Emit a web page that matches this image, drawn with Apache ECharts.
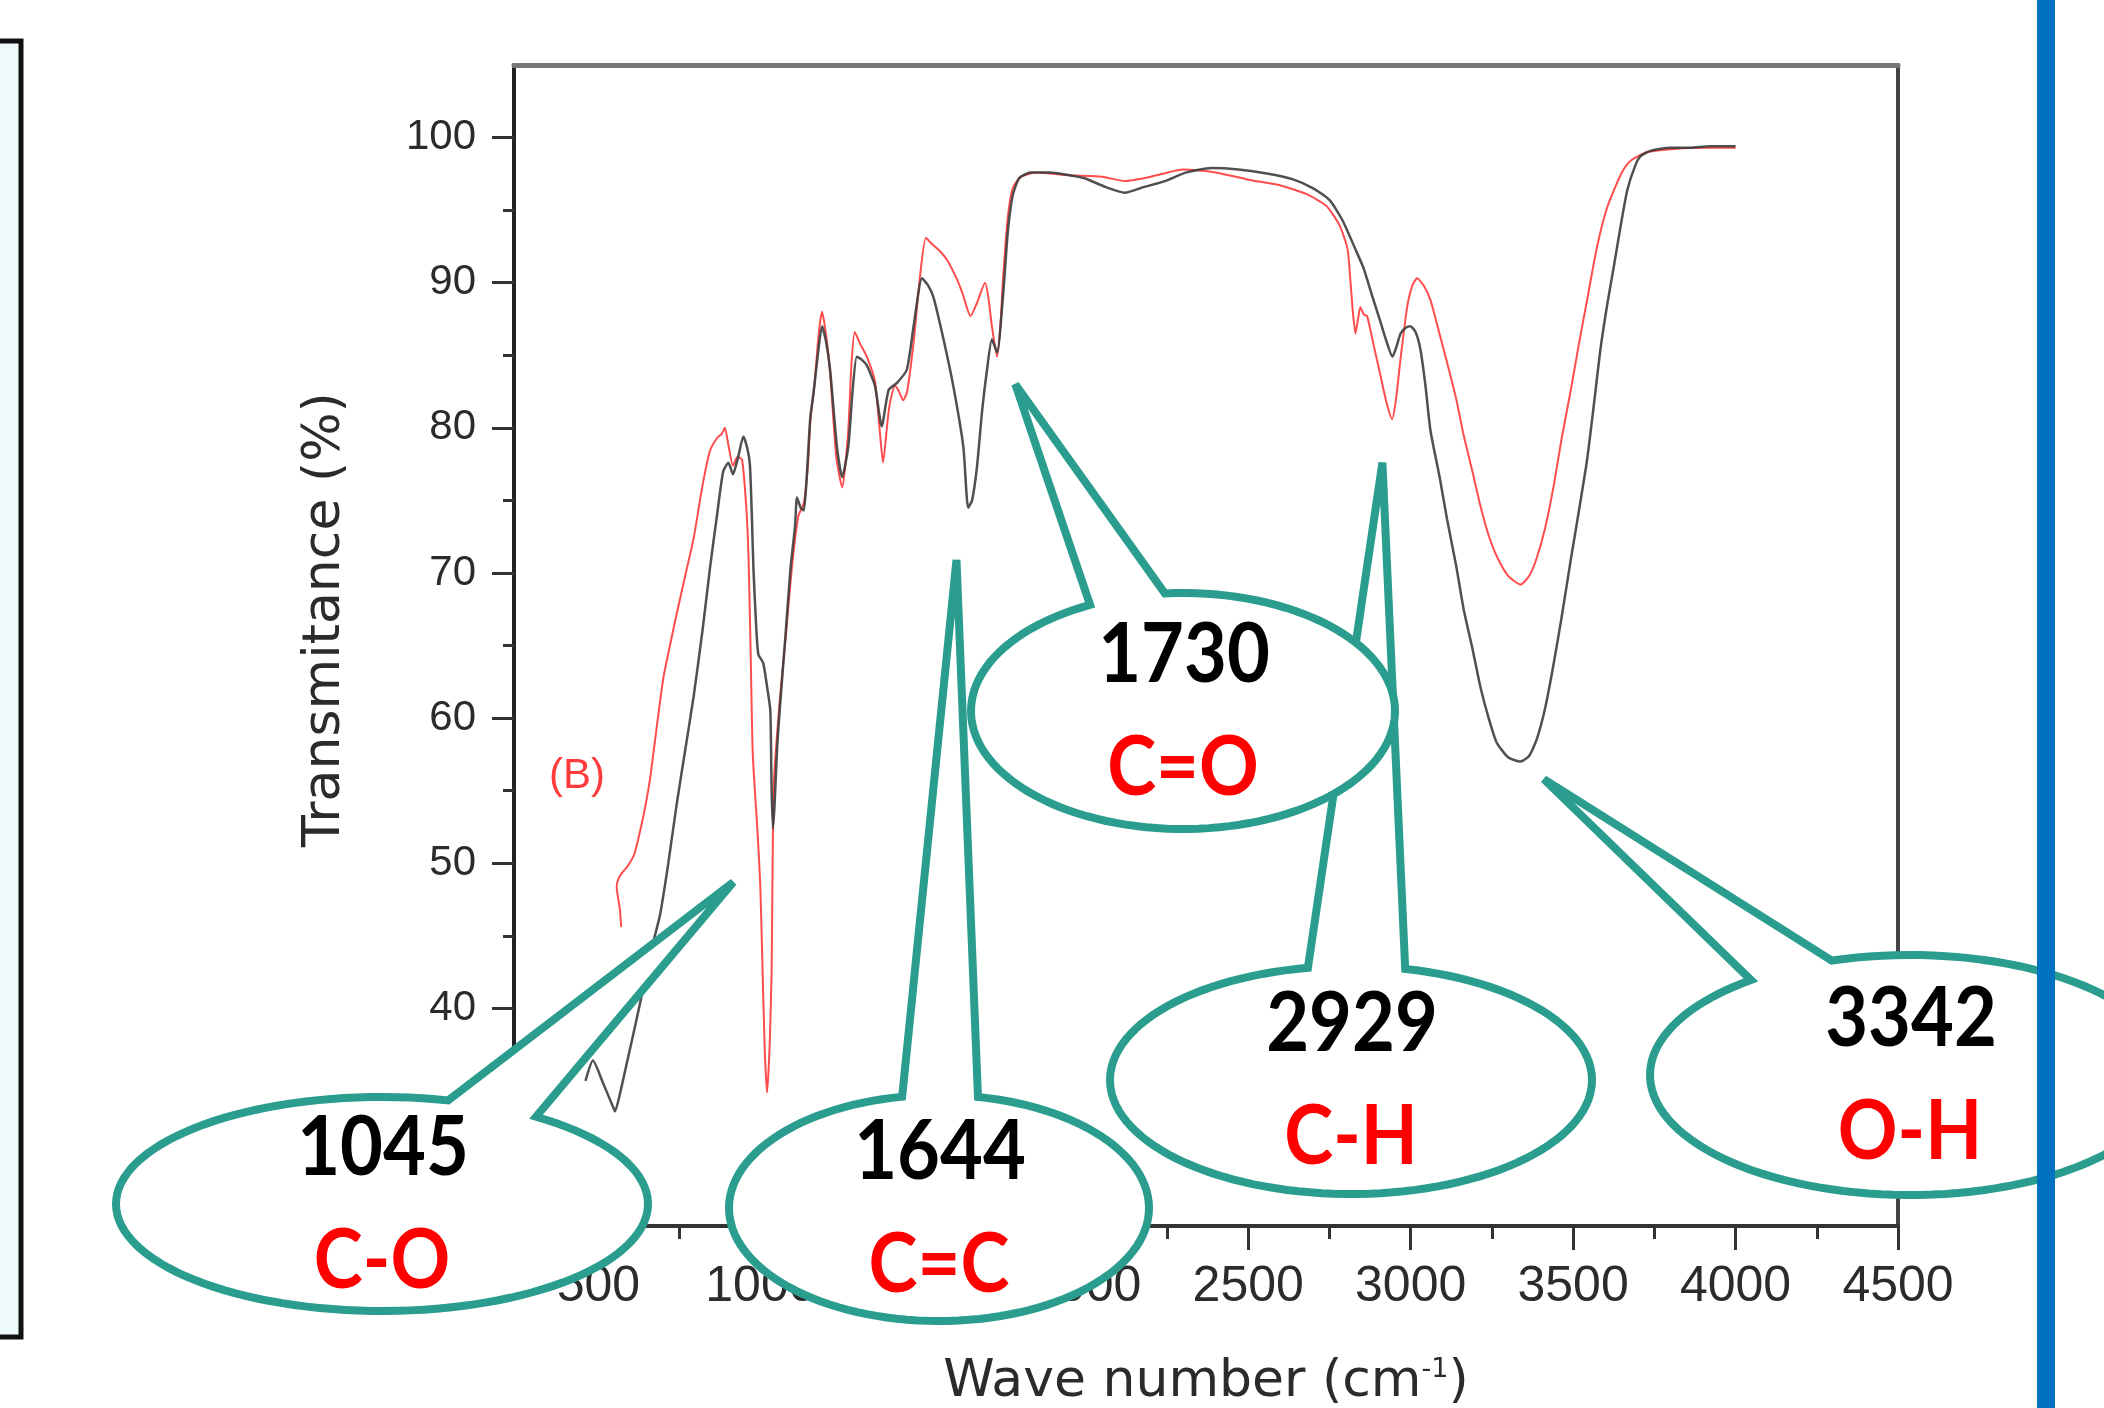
<!DOCTYPE html>
<html>
<head>
    <meta charset="utf-8">
    <title>FTIR spectrum</title>
    <script src="https://cdn.jsdelivr.net/npm/echarts@6/dist/echarts.min.js"></script>
    <style>
        html, body { margin: 0; padding: 0; background: #fff; }
        #main { width: 2104px; height: 1408px; }
    </style>
</head>
<body>
<div id="main"></div>
<script type="text/javascript">
// black trace (wave number, transmitance %)
var blackWn = [460, 483, 515, 545, 551, 565, 590, 615, 636, 660, 690, 715, 741, 767, 793, 820, 843, 865, 884, 900,
    914, 930, 946, 958, 966, 972, 977, 985, 992, 1007, 1020, 1029, 1033, 1037, 1042, 1050, 1058, 1075, 1091, 1105,
    1111, 1122, 1132, 1141, 1152, 1162, 1175, 1188, 1200, 1213, 1234, 1250, 1269, 1282, 1295, 1310, 1326, 1351, 1372, 1393,
    1419, 1449, 1470, 1496, 1515, 1531, 1562, 1592, 1623, 1638, 1650, 1665, 1681, 1696, 1711, 1727, 1746, 1760, 1775, 1795,
    1830, 1890, 1950, 1996, 2060, 2120, 2180, 2244, 2310, 2386, 2470, 2562, 2640, 2700, 2750, 2790, 2830, 2855, 2880, 2907,
    2925, 2944, 2955, 2969, 2985, 2999, 3015, 3030, 3045, 3061, 3090, 3112, 3140, 3163, 3190, 3215, 3240, 3265, 3300, 3338,
    3365, 3389, 3415, 3439, 3465, 3492, 3518, 3543, 3565, 3584, 3605, 3626, 3647, 3667, 3690, 3707, 3740, 3800, 3860, 3920, 4000];
var blackT = [35.0, 36.4, 34.8, 33.2, 32.9, 34.0, 36.5, 39.0, 41.2, 43.8, 46.5, 50.0, 54.1, 57.8, 61.5, 66.0, 70.3, 74.0, 77.0, 77.6,
    76.8, 78.0, 79.4, 78.6, 77.5, 74.0, 70.3, 66.5, 64.4, 63.8, 62.0, 60.5, 55.0, 52.4, 54.0, 58.0, 60.6, 65.5, 70.3, 73.2,
    75.2, 74.5, 74.3, 76.6, 80.7, 82.4, 85.0, 87.0, 86.0, 84.0, 78.7, 76.6, 78.7, 82.5, 84.9, 84.7, 84.3, 82.9, 80.1, 82.6,
    83.1, 84.0, 87.0, 90.3, 89.8, 89.0, 86.1, 82.9, 78.7, 74.5, 75.0, 77.3, 81.2, 84.0, 86.1, 85.2, 89.3, 93.5, 96.0, 97.2,
    97.6, 97.6, 97.4, 97.2, 96.6, 96.2, 96.6, 97.0, 97.6, 97.9, 97.8, 97.5, 97.1, 96.5, 95.7, 94.3, 92.3, 91.0, 89.2, 87.3,
    86.0, 84.9, 85.5, 86.5, 86.9, 87.0, 86.6, 85.4, 83.0, 79.8, 76.5, 73.7, 70.5, 67.5, 64.8, 62.1, 60.0, 58.3, 57.3, 57.0,
    57.4, 58.6, 60.8, 63.6, 67.0, 70.8, 74.3, 77.8, 81.8, 85.4, 88.5, 91.2, 94.0, 96.4, 98.0, 98.7, 99.1, 99.3, 99.3, 99.4, 99.4];

// red trace (B)
var redWn = [570, 566, 556, 563, 575, 590, 610, 628, 645, 660, 680, 700, 720, 741, 767, 793, 820, 843, 865, 880,
    889, 900, 914, 928, 942, 955, 962, 968, 975, 990, 998, 1004, 1012, 1019, 1027, 1033, 1036, 1040, 1058, 1076,
    1095, 1115, 1132, 1145, 1152, 1165, 1178, 1188, 1200, 1213, 1232, 1250, 1268, 1279, 1289, 1305, 1326, 1351, 1365, 1376,
    1390, 1397, 1413, 1425, 1438, 1450, 1470, 1490, 1508, 1525, 1550, 1572, 1598, 1620, 1645, 1665, 1690, 1700, 1711, 1727,
    1737, 1746, 1760, 1775, 1800, 1850, 1950, 2050, 2120, 2200, 2300, 2400, 2500, 2600, 2680, 2740, 2780, 2805, 2815, 2822,
    2830, 2838, 2845, 2856, 2866, 2885, 2907, 2925, 2943, 2955, 2969, 2989, 3005, 3020, 3040, 3061, 3085, 3112, 3140, 3163,
    3190, 3215, 3240, 3266, 3300, 3338, 3365, 3389, 3415, 3441, 3465, 3492, 3518, 3543, 3565, 3584, 3605, 3626, 3650, 3677,
    3728, 3800, 3900, 4000];
var redT = [45.6, 46.8, 48.4, 49.0, 49.4, 49.8, 50.6, 52.2, 54.0, 56.0, 59.5, 62.8, 65.0, 67.2, 69.8, 72.4, 76.0, 78.4, 79.3, 79.6,
    80.0, 78.8, 77.4, 78.0, 77.8, 74.5, 71.0, 65.0, 57.5, 52.0, 48.5, 43.6, 37.0, 34.2, 37.5, 42.6, 50.0, 55.6, 61.2, 65.5,
    70.3, 73.9, 74.8, 77.5, 80.5, 83.0, 86.5, 88.0, 86.5, 83.8, 78.0, 75.9, 79.5, 84.5, 86.6, 85.8, 84.9, 83.2, 80.0, 77.6,
    80.5, 81.7, 82.9, 82.5, 81.9, 82.5, 85.9, 90.5, 93.1, 92.7, 92.2, 91.6, 90.5, 89.3, 87.7, 88.6, 90.0, 89.0, 87.0, 84.9,
    87.0, 90.5, 94.5, 96.5, 97.3, 97.6, 97.4, 97.3, 97.0, 97.3, 97.8, 97.6, 97.1, 96.7, 96.1, 95.3, 94.0, 92.4, 90.0, 88.0,
    86.5, 87.5, 88.3, 87.8, 87.7, 85.8, 83.6, 81.8, 80.6, 82.0, 84.8, 88.3, 89.8, 90.3, 89.8, 88.8, 86.8, 84.5, 82.0, 79.5,
    77.0, 74.6, 72.6, 71.1, 69.8, 69.2, 69.8, 71.1, 73.2, 76.1, 79.3, 82.5, 85.8, 88.8, 91.5, 93.5, 95.2, 96.4, 97.6, 98.4,
    99.0, 99.2, 99.3, 99.3];

// ticks
var xMajorTicks = [500, 1000, 1500, 2000, 2500, 3000, 3500, 4000, 4500];
var xMinorTicks = [750, 1250, 1750, 2250, 2750, 3250, 3750, 4250];
var yMajorTicks = [30, 40, 50, 60, 70, 80, 90, 100];
var yMinorTicks = [35, 45, 55, 65, 75, 85, 95];

// peak callouts
var peakNumbers = ['2929', '1730', '1045', '1644', '3342'];
var peakGroups = ['C-H', 'C=O', 'C-O', 'C=C', 'O-H'];
var peakTipWn = [2913, 1783, 915, 1602, 3410];
var peakTipT = [77.6, 83.0, 48.7, 70.9, 55.8];

var teal = '#2a9d8f';

function pairs(xs, ys) {
    var out = [];
    for (var i = 0; i < xs.length; i++) out.push([xs[i], ys[i]]);
    return out;
}

function plain(v) {
    return String(v);
}

var myChart = echarts.init(document.getElementById('main'));

var tickFont = 'Liberation Sans, Arial, sans-serif';
var titleFont = 'DejaVu Sans, sans-serif';

var option = {
    animation: false,
    backgroundColor: '#ffffff',
    grid: {
        left: 514, right: 206, top: 65, bottom: 182,
        containLabel: false,
        outerBoundsMode: 'none'
    },
    xAxis: [{
        type: 'value', min: 240, max: 4500, position: 'bottom',
        axisLine: { show: true, lineStyle: { color: '#333', width: 4 } },
        axisTick: { show: true, inside: false, length: 24, customValues: xMajorTicks, lineStyle: { color: '#333', width: 3 } },
        axisLabel: { show: true, customValues: xMajorTicks, formatter: plain, margin: 36, fontSize: 50, fontFamily: tickFont, color: '#2b2b2b' },
        splitLine: { show: false },
        name: 'Wave number (cm{sup|-1})',
        nameLocation: 'middle',
        nameGap: 130,
        nameTextStyle: {
            fontFamily: titleFont, fontSize: 52, color: '#2b2b2b',
            rich: { sup: { fontFamily: titleFont, fontSize: 27, color: '#2b2b2b', verticalAlign: 'top' } }
        }
    }, {
        type: 'value', min: 240, max: 4500, position: 'bottom',
        axisLine: { show: false },
        axisTick: { show: true, inside: false, length: 13, customValues: xMinorTicks, lineStyle: { color: '#333', width: 3 } },
        axisLabel: { show: false },
        splitLine: { show: false }
    }, {
        type: 'value', min: 240, max: 4500, position: 'top',
        axisLine: { show: true, lineStyle: { color: '#777', width: 5 } },
        axisTick: { show: false }, axisLabel: { show: false }, splitLine: { show: false }
    }],
    yAxis: [{
        type: 'value', min: 25, max: 105, position: 'left',
        axisLine: { show: true, lineStyle: { color: '#222', width: 4 } },
        axisTick: { show: true, inside: false, length: 22, customValues: yMajorTicks, lineStyle: { color: '#333', width: 3 } },
        axisLabel: { show: true, customValues: yMajorTicks, formatter: plain, margin: 38, fontSize: 42, fontFamily: tickFont, color: '#2b2b2b' },
        splitLine: { show: false },
        name: 'Transmitance (%)',
        nameLocation: 'middle',
        nameGap: 163,
        nameTextStyle: { fontFamily: titleFont, fontSize: 52, color: '#2b2b2b', padding: [0, 0, 0, 52] }
    }, {
        type: 'value', min: 25, max: 105, position: 'left',
        axisLine: { show: false },
        axisTick: { show: true, inside: false, length: 11, customValues: yMinorTicks, lineStyle: { color: '#333', width: 3 } },
        axisLabel: { show: false },
        splitLine: { show: false }
    }, {
        type: 'value', min: 25, max: 105, position: 'right',
        axisLine: { show: true, lineStyle: { color: '#444', width: 4 } },
        axisTick: { show: false }, axisLabel: { show: false }, splitLine: { show: false }
    }],
    series: [{
        name: 'B',
        type: 'line',
        xAxisIndex: 0, yAxisIndex: 0,
        data: pairs(redWn, redT),
        showSymbol: false,
        smooth: 0.2,
        lineStyle: { color: '#ff4d4d', width: 2 },
        z: 2
    }, {
        name: 'A',
        type: 'line',
        xAxisIndex: 0, yAxisIndex: 0,
        data: pairs(blackWn, blackT),
        showSymbol: false,
        smooth: 0.2,
        lineStyle: { color: '#3d3d3d', width: 2.5, opacity: 0.9 },
        z: 3
    }]
};

myChart.setOption(option);

// ellipse shapes of the callouts (pixels) and where the pointer leaves them (degrees)
var bubbles = [
    { cx: 1351, cy: 1080, rx: 241, ry: 114, from: -77, to: 259.7 },
    { cx: 1183, cy: 711, rx: 212, ry: 118, from: -94.9, to: 244 },
    { cx: 382, cy: 1204, rx: 266, ry: 107, from: -54.6, to: 284.4 },
    { cx: 939, cy: 1208, rx: 210, ry: 113, from: -79.3, to: 259.9 },
    { cx: 1910, cy: 1075, rx: 260, ry: 120, from: -107.5, to: 232.3 }
];

function bubblePoints(b, tip) {
    var pts = [tip];
    var a0 = b.from * Math.PI / 180, a1 = b.to * Math.PI / 180;
    var n = 120;
    for (var i = 0; i <= n; i++) {
        var a = a0 + (a1 - a0) * i / n;
        pts.push([b.cx + b.rx * Math.cos(a), b.cy + b.ry * Math.sin(a)]);
    }
    return pts;
}

var graphics = [];

// left frame box
graphics.push({
    type: 'rect', z: 50,
    shape: { x: -10, y: 41, width: 31, height: 1296 },
    style: { fill: '#eef9fc', stroke: '#111', lineWidth: 5 }
});

// (B) label
graphics.push({
    type: 'text', z: 50, x: 577, y: 776,
    style: { text: '(B)', font: '42px Liberation Sans, Arial, sans-serif', fill: '#ff3b3b',
        textAlign: 'center', textVerticalAlign: 'middle', align: 'center', verticalAlign: 'middle' }
});

for (var k = 0; k < bubbles.length; k++) {
    var tip = myChart.convertToPixel({ gridIndex: 0 }, [peakTipWn[k], peakTipT[k]]);
    var b = bubbles[k];
    var zBase = 100 + k * 10;
    graphics.push({
        type: 'polygon', z: zBase,
        shape: { points: bubblePoints(b, tip) },
        style: { fill: '#ffffff', stroke: teal, lineWidth: 8, lineJoin: 'miter', miterLimit: 2.5 }
    });
    graphics.push({
        type: 'text', z: zBase + 1, x: b.cx + 1, y: b.cy - 55, scaleY: 1.1,
        style: { text: peakNumbers[k], font: 'bold 74px Lato, sans-serif', fill: '#000',
            textAlign: 'center', textVerticalAlign: 'middle', align: 'center', verticalAlign: 'middle' }
    });
    graphics.push({
        type: 'text', z: zBase + 1, x: b.cx, y: b.cy + 58, scaleY: 1.1,
        style: { text: peakGroups[k], font: 'bold 74px Lato, sans-serif', fill: '#ff0000',
            textAlign: 'center', textVerticalAlign: 'middle', align: 'center', verticalAlign: 'middle' }
    });
}

// blue bar on the right
graphics.push({
    type: 'rect', z: 200,
    shape: { x: 2037, y: 0, width: 18, height: 1408 },
    style: { fill: '#0070c0' }
});

myChart.setOption({ graphic: graphics });
</script>
</body>
</html>
